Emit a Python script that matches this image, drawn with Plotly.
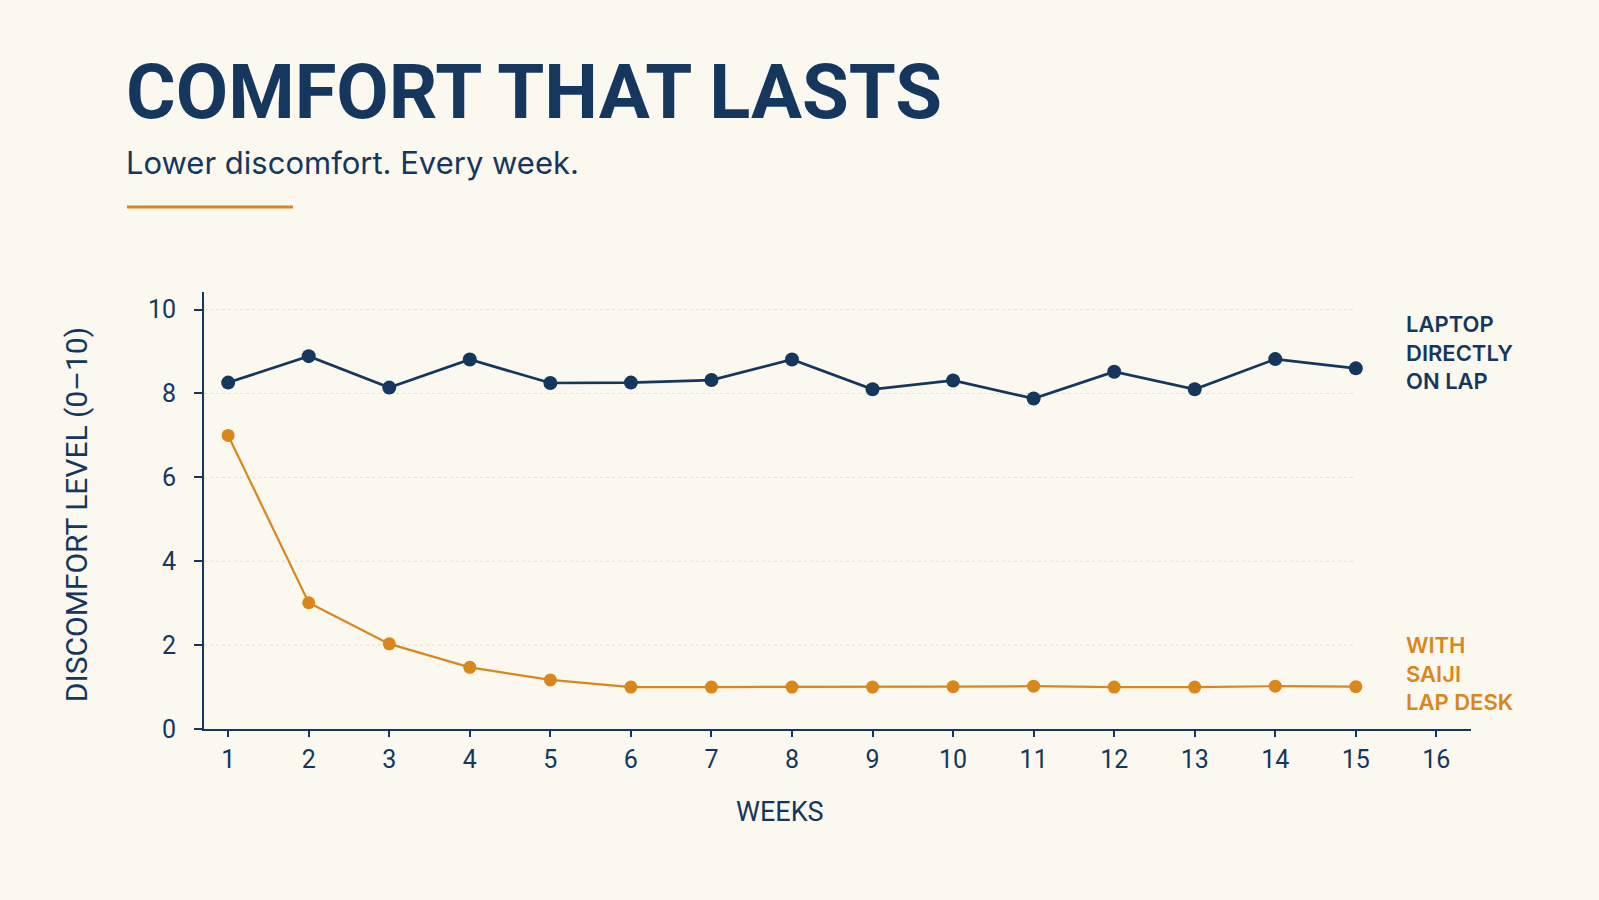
import plotly.graph_objects as go

# ---- data ----
weeks = [1, 2, 3, 4, 5, 6, 7, 8, 9, 10, 11, 12, 13, 14, 15]
laptop_on_lap = [8.26, 8.89, 8.14, 8.81, 8.25, 8.26, 8.32, 8.81, 8.10, 8.31, 7.88, 8.52, 8.10, 8.82, 8.60]
with_lap_desk = [7.00, 3.01, 2.03, 1.47, 1.17, 1.00, 1.00, 1.00, 1.00, 1.01, 1.02, 1.00, 1.00, 1.02, 1.01]
x_ticks = [1, 2, 3, 4, 5, 6, 7, 8, 9, 10, 11, 12, 13, 14, 15, 16]
y_ticks = [0, 2, 4, 6, 8, 10]
grid_levels = [2, 4, 6, 8, 10]

title_text = "COMFORT THAT LASTS"
subtitle_text = "Lower discomfort. Every week."
series_names = ["LAPTOP<br>DIRECTLY<br>ON LAP", "WITH<br>SAIJI<br>LAP DESK"]

# ---- style ----
NAVY = "#15375e"
ORANGE = "#d9861a"
BG = "#fbf8f0"
GRID = "#e3ded2"
FONT = "Roboto"
FONT2 = "Inter"

fig = go.Figure()

fig.add_trace(go.Scatter(
    x=weeks, y=laptop_on_lap, mode="lines+markers",
    line=dict(color=NAVY, width=2.7),
    marker=dict(color=NAVY, size=14),
    showlegend=False, hoverinfo="x+y",
))
fig.add_trace(go.Scatter(
    x=weeks, y=with_lap_desk, mode="lines+markers",
    line=dict(color=ORANGE, width=2.2),
    marker=dict(color=ORANGE, size=13),
    showlegend=False, hoverinfo="x+y",
))

# gridlines ending at last week
for g in grid_levels:
    fig.add_shape(type="line", xref="x", yref="y", x0=0.7, x1=weeks[-1], y0=g, y1=g,
                  line=dict(color=GRID, width=1, dash="dot"), layer="below")

# orange accent rule under subtitle
fig.add_shape(type="line", xref="paper", yref="paper",
              x0=-0.0608, x1=0.0702, y0=1.1945, y1=1.1945,
              line=dict(color=ORANGE, width=3))

annotations = [
    dict(text=title_text, x=-0.0635, y=1.457, xref="paper", yref="paper",
         xanchor="left", yanchor="middle", showarrow=False,
         font=dict(family=FONT, size=76, color=NAVY, weight="bold")),
    dict(text=subtitle_text, x=-0.0635, y=1.297, xref="paper", yref="paper",
         xanchor="left", yanchor="middle", showarrow=False,
         font=dict(family=FONT2, size=31, color=NAVY)),
    dict(text="DISCOMFORT LEVEL (0–10)", x=-0.1, y=0.49, xref="paper", yref="paper",
         xanchor="center", yanchor="middle", textangle=-90, showarrow=False,
         font=dict(family=FONT, size=30, color=NAVY)),
    dict(text="WEEKS", x=0.4546, y=-0.19, xref="paper", yref="paper",
         xanchor="center", yanchor="middle", showarrow=False,
         font=dict(family=FONT, size=27, color=NAVY)),
    dict(text=series_names[0], x=0.947, y=0.8616, xref="paper", yref="paper",
         xanchor="left", yanchor="middle", align="left", showarrow=False,
         font=dict(family=FONT2, size=22, color=NAVY, weight=600)),
    dict(text=series_names[1], x=0.947, y=0.1263, xref="paper", yref="paper",
         xanchor="left", yanchor="middle", align="left", showarrow=False,
         font=dict(family=FONT2, size=22, color=ORANGE, weight=600)),
]

fig.update_layout(
    width=1599, height=900,
    paper_bgcolor=BG, plot_bgcolor=BG,
    margin=dict(l=204, r=128, t=292, b=171),
    annotations=annotations,
    font=dict(family=FONT, color=NAVY),
    xaxis=dict(
        range=[0.7, 16.43], tickmode="array", tickvals=x_ticks,
        ticktext=[str(t) for t in x_ticks],
        showgrid=False, zeroline=False,
        showline=True, linecolor=NAVY, linewidth=2,
        ticks="outside", ticklen=6, tickwidth=1.5, tickcolor=NAVY,
        tickfont=dict(family=FONT, size=25, color=NAVY),
        ticklabelstandoff=1,
    ),
    yaxis=dict(
        range=[0, 10.42], tickmode="array", tickvals=y_ticks,
        showgrid=False, zeroline=False,
        showline=True, linecolor=NAVY, linewidth=2,
        ticks="outside", ticklen=8, tickwidth=1.5, tickcolor=NAVY,
        tickfont=dict(family=FONT, size=25, color=NAVY),
        ticklabelstandoff=13,
    ),
)

fig.write_html("out.html")
